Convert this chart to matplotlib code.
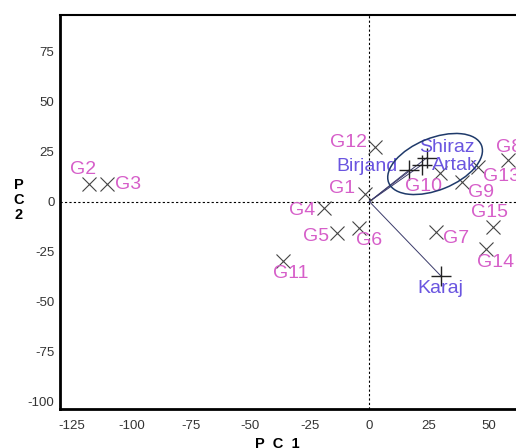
import numpy as np
import matplotlib
matplotlib.use("Agg")
import matplotlib.pyplot as plt
import matplotlib.transforms as mtransforms
from matplotlib.patches import Ellipse

plt.rcParams['font.family'] = ['Liberation Sans', 'DejaVu Sans']
plt.rcParams['axes.unicode_minus'] = False

# genotype scores (PC1, PC2)
genotypes = ["G1", "G2", "G3", "G4", "G5", "G6", "G7", "G8", "G9", "G10",
             "G11", "G12", "G13", "G14", "G15"]
geno_pc1 = [-1.9, -118.0, -110.4, -19.0, -13.8, -4.3, 27.9, 58.3, 38.7, 29.6,
            -36.5, 2.3, 45.7, 49.2, 52.0]
geno_pc2 = [3.7, 8.8, 8.8, -3.3, -15.8, -13.3, -15.0, 20.8, 10.0, 14.2,
            -29.7, 27.5, 17.5, -23.7, -12.5]

# environment vectors (PC1, PC2)
environments = ["Birjand", "Artak", "Shiraz", "Karaj"]
env_pc1 = [16.7, 21.9, 24.0, 29.9]
env_pc2 = [15.8, 18.3, 21.8, -37.0]

xticks = [-125, -100, -75, -50, -25, 0, 25, 50]
yticks = [-100, -75, -50, -25, 0, 25, 50, 75]

# label offsets in pixels (dx, dy, ha)
geno_offsets = {
    "G1": (-10, 6, "right"), "G2": (-5, 15, "center"), "G3": (8, 0, "left"),
    "G4": (-9, -2, "right"), "G5": (-7, -3, "right"), "G6": (-3, -12, "left"),
    "G7": (7, -7, "left"), "G8": (-12, 13, "left"), "G9": (6, -11, "left"),
    "G10": (-35, -13, "left"), "G11": (8, -12, "center"), "G12": (-8, 4, "right"),
    "G13": (5, -10, "left"), "G14": (-9, -13, "left"), "G15": (-22, 14, "left"),
}
env_offsets = {
    "Birjand": (-12, 4, "right"), "Artak": (10, 0, "left"),
    "Shiraz": (-7, 11, "left"), "Karaj": (0, -13, "center"),
}

pink = "#d65ec9"
blue = "#6a55e0"

fig = plt.figure(figsize=(5.16, 4.48), dpi=100)
ax = fig.add_axes([60 / 516, 39 / 448, 476 / 516, 394 / 448])
ax.set_xlim(-130, 70)
ax.set_ylim(-103.7, 93.3)

ax.axhline(0, color="black", lw=0.8, ls=(0, (2, 2)), zorder=1)
ax.axvline(0, color="black", lw=0.8, ls=(0, (2, 2)), zorder=1)

for x, y in zip(env_pc1, env_pc2):
    ax.plot([0, x], [0, y], color="#3a3a6a", lw=0.7, zorder=2)

ax.plot(geno_pc1, geno_pc2, ls="none", marker="x", ms=10.5, mew=0.8,
        color="#444444", zorder=3)
ax.plot(env_pc1, env_pc2, ls="none", marker="+", ms=15, mew=1.0,
        color="#222222", zorder=3)

for name, x, y in zip(genotypes, geno_pc1, geno_pc2):
    dx, dy, ha = geno_offsets[name]
    ax.annotate(name, (x, y), xytext=(dx, dy), textcoords="offset pixels",
                ha=ha, va="center", color=pink, fontsize=14, zorder=4)

for name, x, y in zip(environments, env_pc1, env_pc2):
    dx, dy, ha = env_offsets[name]
    ax.annotate(name, (x, y), xytext=(dx, dy), textcoords="offset pixels",
                ha=ha, va="center", color=blue, fontsize=14, zorder=4)

# ellipse around the clustered environments, drawn in pixel units
trans = mtransforms.Affine2D() + mtransforms.ScaledTranslation(27.6, 18.8, ax.transData)
ax.add_patch(Ellipse((0, 0), 100, 52, angle=22, transform=trans,
                     fill=False, ec="#1f3a6a", lw=1.1, zorder=4))

ax.set_xticks(xticks)
ax.set_yticks(yticks)
ax.tick_params(length=0, labelsize=9.5, labelcolor="#333333")
ax.tick_params(axis="x", pad=8)
ax.tick_params(axis="y", pad=4)
ax.spines["right"].set_visible(False)
ax.spines["left"].set_linewidth(2)
ax.spines["bottom"].set_linewidth(2)
ax.spines["top"].set_linewidth(1.5)

fig.text(277 / 516, 1 - 437 / 448, "P  C  1", ha="center", va="top",
         fontsize=10.5, fontweight="bold")
fig.text(19 / 516, 1 - 200 / 448, "P\nC\n2", ha="center", va="center",
         fontsize=10.5, fontweight="bold", linespacing=1.05)

fig.savefig("out.png", dpi=100)
